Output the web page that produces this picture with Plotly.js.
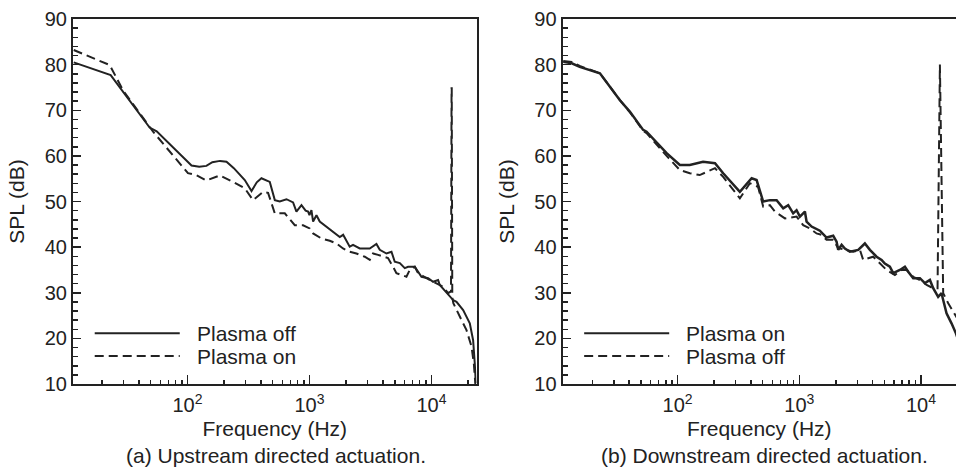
<!DOCTYPE html>
<html><head><meta charset="utf-8">
<script src="https://cdn.plot.ly/plotly-3.0.1.min.js"></script>
<style>html,body{margin:0;padding:0;background:#fff;overflow:hidden}#chart{width:956px;height:476px}</style>
</head><body><div id="chart"></div>
<script>
// ---- (a) Upstream directed actuation ----
const upstreamOffFreq = [11.7, 23.5, 49, 52, 56, 108, 125, 143, 160, 185, 209, 240, 295, 335, 370, 404, 473, 520, 571, 648, 734, 782, 860, 930, 975, 1000, 1038, 1071, 1141, 1214, 1500, 1771, 1888, 2000, 2137, 2276, 2582, 3119, 3538, 3767, 4274, 4699, 5000, 5500, 6040, 6430, 7295, 8276, 9380, 10310, 11330, 11690, 13680, 15040, 16030, 18170, 20600, 21930, 22630, 23060];
const upstreamOffSpl  = [80.5, 77.7, 66.2, 65.9, 65.4, 57.9, 57.6, 57.8, 58.6, 58.9, 58.7, 57.3, 54.7, 52.3, 54.2, 55.1, 54.3, 50.3, 50.0, 50.5, 49.8, 47.8, 49.2, 48.0, 47.8, 47.0, 48.1, 45.6, 47.0, 45.6, 43.6, 42.2, 42.7, 41.5, 40.1, 40.5, 39.7, 39.7, 40.7, 39.4, 38.6, 39.0, 36.8, 36.5, 35.4, 35.7, 35.7, 33.5, 33.2, 32.4, 32.8, 31.7, 29.5, 28.4, 28.0, 26.2, 23.3, 19.6, 14.5, 10.2];

const upstreamOnFreq = [11.7, 23.1, 29.6, 52.3, 101, 118, 143, 184, 237, 295, 345, 417, 458, 490, 520, 628, 700, 758, 887, 1004, 1071, 1254, 1466, 1664, 1884, 2137, 2425, 2838, 3119, 3320, 3650, 4404, 4842, 5160, 6234, 6633, 7295, 7762, 9089, 10990, 12450, 13680, 14450, 14600, 14650, 14800, 15100, 17060, 19360, 21280, 22220, 22960];
const upstreamOnSpl  = [83.2, 79.9, 74.4, 65.3, 56.2, 55.8, 54.6, 55.7, 54.3, 52.9, 50.3, 52.1, 51.9, 49.5, 47.4, 47.4, 45.9, 44.8, 44.8, 44.1, 43.0, 41.9, 41.4, 40.8, 39.7, 39.0, 38.6, 37.9, 37.2, 38.6, 38.3, 37.6, 35.7, 34.3, 33.5, 35.0, 35.7, 34.3, 33.2, 32.1, 31.3, 29.9, 30.3, 74.8, 74.8, 29.0, 27.7, 24.8, 21.8, 18.2, 14.5, 9.4];

// ---- (b) Downstream directed actuation ----
const downstreamOnFreq = [11.5, 13.5, 15.7, 17.9, 23.0, 33.6, 40.5, 52.1, 55.6, 81.3, 104.4, 126, 162, 203, 237, 325, 406, 446, 505, 573, 651, 738, 811, 891, 950, 1012, 1112, 1148, 1262, 1476, 1675, 1900, 2025, 2088, 2228, 2371, 2607, 3051, 3459, 3803, 4316, 4744, 5047, 5548, 5911, 6710, 7376, 7853, 8632, 9795, 10770, 11840, 12600, 13840, 14760, 15220, 16220, 17820, 19360, 20900];
const downstreamOnSpl  = [80.6, 80.3, 79.5, 79.0, 78.1, 72.2, 69.7, 65.7, 65.3, 60.6, 58.0, 58.0, 58.7, 58.4, 56.2, 52.1, 55.1, 54.7, 50.0, 50.3, 50.3, 48.5, 49.2, 47.4, 48.1, 46.7, 47.8, 45.6, 44.5, 43.6, 42.1, 42.5, 41.2, 39.4, 40.5, 39.7, 39.0, 39.4, 40.8, 39.4, 37.9, 37.2, 36.4, 35.7, 34.3, 35.0, 35.7, 34.6, 33.2, 33.2, 32.1, 32.8, 31.0, 29.1, 29.9, 28.4, 25.5, 23.3, 21.1, 18.5];

const downstreamOffFreq = [11.5, 13.5, 15.7, 17.9, 23.0, 33.6, 40.5, 52.1, 55.6, 81.3, 104.4, 126, 152, 203, 237, 325, 393, 459, 505, 573, 630, 762, 950, 1077, 1222, 1386, 1524, 1675, 1900, 2088, 2371, 2774, 3149, 3351, 4047, 4449, 5212, 6107, 6933, 7622, 8632, 9795, 11120, 12600, 13430, 13680, 14300, 15220, 16740, 19360, 20900];
const downstreamOffSpl  = [80.8, 80.6, 79.7, 79.2, 78.1, 72.2, 69.6, 65.5, 65.0, 60.0, 56.9, 56.2, 55.8, 57.3, 55.4, 50.7, 54.0, 53.2, 48.9, 49.2, 47.8, 46.3, 46.7, 44.8, 44.1, 43.0, 42.7, 41.6, 41.6, 39.8, 39.4, 39.0, 39.4, 37.2, 37.9, 36.8, 35.0, 33.9, 35.0, 35.0, 33.5, 32.8, 31.7, 31.0, 31.0, 31.0, 80.0, 29.9, 27.7, 24.8, 23.4];

// ---- ticks & labels ----
const freqMajorTicks = [100, 1000, 10000];
const freqMajorLabels = ['10<sup>2</sup>', '10<sup>3</sup>', '10<sup>4</sup>'];
const freqMinorTicks = [20, 30, 40, 50, 60, 70, 80, 90, 200, 300, 400, 500, 600, 700, 800, 900, 2000, 3000, 4000, 5000, 6000, 7000, 8000, 9000, 20000];
const splTicks = [10, 20, 30, 40, 50, 60, 70, 80, 90];
const captions = ['(a) Upstream directed actuation.', '(b) Downstream directed actuation.'];
const legendA = ['Plasma off', 'Plasma on'];
const legendB = ['Plasma on', 'Plasma off'];

const FONT = 'Liberation Sans, Arial, Helvetica, sans-serif';
const INK = '#222222';
const DASH = '9px,5px';

function line(x, y, xa, ya, dash, w, name) {
  return {x: x, y: y, xaxis: xa, yaxis: ya, type: 'scatter', mode: 'lines', name: name,
    line: {color: INK, width: w, dash: dash}, showlegend: false, hoverinfo: 'skip'};
}

const data = [
  line(upstreamOffFreq, upstreamOffSpl, 'x', 'y', 'solid', 2, legendA[0]),
  line(upstreamOnFreq, upstreamOnSpl, 'x', 'y', DASH, 2, legendA[1]),
  line(downstreamOffFreq, downstreamOffSpl, 'x2', 'y2', DASH, 2, legendB[1]),
  line(downstreamOnFreq, downstreamOnSpl, 'x2', 'y2', 'solid', 2.5, legendB[0])
];

function xAxis(domain, range, anchor) {
  return {domain: domain, anchor: anchor, type: 'log', range: range,
    tickmode: 'array', tickvals: freqMajorTicks, ticktext: freqMajorLabels,
    ticks: 'inside', ticklen: 9, tickwidth: 1.5, tickcolor: INK,
    tickfont: {size: 20, color: INK, family: FONT}, ticklabelstandoff: 2,
    minor: {tickmode: 'array', tickvals: freqMinorTicks, ticks: 'inside', ticklen: 4, tickwidth: 1.5, tickcolor: INK, showgrid: false},
    showline: true, linewidth: 2, linecolor: INK, mirror: true,
    showgrid: false, zeroline: false, automargin: true,
    title: {text: 'Frequency (Hz)', font: {size: 21, color: INK, family: FONT}, standoff: 6}};
}
function yAxis(anchor, mirror) {
  return {domain: [0, 1], anchor: anchor, range: [10, 90],
    tickmode: 'array', tickvals: splTicks,
    ticks: 'inside', ticklen: 8, tickwidth: 1.5, tickcolor: INK,
    tickfont: {size: 20, color: INK, family: FONT}, ticklabelstandoff: 0,
    minor: {dtick: 2, tick0: 10, ticks: 'inside', ticklen: 5, tickwidth: 1.5, tickcolor: INK, showgrid: false},
    showline: true, linewidth: 2, linecolor: INK, mirror: mirror,
    showgrid: false, zeroline: false, automargin: true,
    title: {text: 'SPL (dB)', font: {size: 21, color: INK, family: FONT}, standoff: 14}};
}

const shapes = [];
const annotations = [];
function addLegend(x0, x1, xt, labels) {
  const ys = [0.1389, 0.0767];
  for (let i = 0; i < 2; i++) {
    shapes.push({type: 'line', xref: 'paper', yref: 'paper', x0: x0, x1: x1, y0: ys[i], y1: ys[i],
      line: {color: INK, width: 2, dash: i === 0 ? 'solid' : '9px,5px'}});
    annotations.push({xref: 'paper', yref: 'paper', x: xt, y: ys[i], xanchor: 'left', yanchor: 'middle',
      text: labels[i], showarrow: false, font: {size: 21, color: INK, family: FONT}});
  }
}
addLegend(0.0246, 0.1209, 0.1379, legendA);
addLegend(0.5789, 0.6752, 0.6918, legendB);
annotations.push({xref: 'paper', yref: 'paper', x: 0.2302, y: -0.197, xanchor: 'center', yanchor: 'middle',
  text: captions[0], showarrow: false, font: {size: 21, color: INK, family: FONT}});
annotations.push({xref: 'paper', yref: 'paper', x: 0.7836, y: -0.197, xanchor: 'center', yanchor: 'middle',
  text: captions[1], showarrow: false, font: {size: 21, color: INK, family: FONT}});

const layout = {
  width: 956, height: 476,
  margin: {l: 73.3, r: 0, t: 19, b: 92, pad: 0},
  paper_bgcolor: '#ffffff', plot_bgcolor: '#ffffff',
  font: {family: FONT, size: 20, color: INK},
  showlegend: false,
  xaxis: xAxis([0, 0.457], [1.0623, 4.369], 'y'),
  yaxis: yAxis('x', true),
  xaxis2: xAxis([0.5544, 1], [1.0547, 4.2877], 'y2'),
  yaxis2: yAxis('x2', false),
  shapes: shapes,
  annotations: annotations
};

Plotly.newPlot('chart', data, layout, {staticPlot: true, displayModeBar: false});
</script></body></html>
